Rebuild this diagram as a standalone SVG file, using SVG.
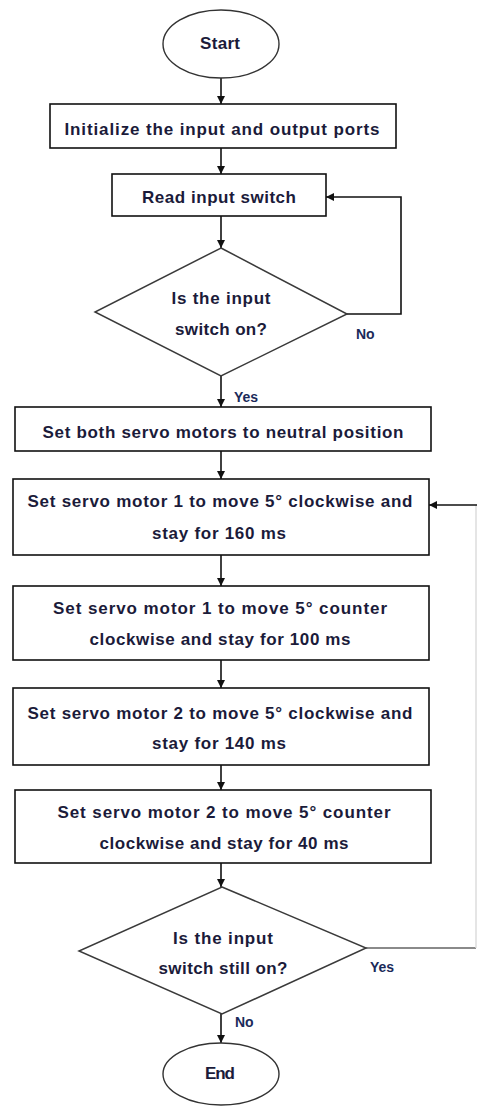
<svg xmlns="http://www.w3.org/2000/svg" width="477" height="1109" viewBox="0 0 477 1109">
<style>
.box{fill:#fff;stroke:#111;stroke-width:1.6}
.dia{fill:#fff;stroke:#3a3a3a;stroke-width:1.5}
.ell{fill:#fff;stroke:#333;stroke-width:1.4}
.t{font-family:"Liberation Sans",Arial,sans-serif;font-size:17px;font-weight:bold;fill:#1b1b3a;text-anchor:middle}
.lb{font-family:"Liberation Sans",Arial,sans-serif;font-size:14px;font-weight:bold;fill:#1b2a5a}
.c{fill:none;stroke:#111;stroke-width:1.6}
</style>
<defs>
<marker id="ah" viewBox="0 0 10 10" refX="10" refY="5" markerWidth="8" markerHeight="8" markerUnits="userSpaceOnUse" orient="auto">
<path d="M0,0 L10,5 L0,10 Z" fill="#111"/>
</marker>
</defs>
<rect width="477" height="1109" fill="#fff"/>
<g id="connectors">
<path class="c" d="M221,78 V104" marker-end="url(#ah)"/>
<path class="c" d="M221,148 V174" marker-end="url(#ah)"/>
<path class="c" d="M221,216 V248" marker-end="url(#ah)"/>
<path class="c" d="M347,314 H401 V197 H326" marker-end="url(#ah)"/>
<path class="c" d="M221,376 V407" marker-end="url(#ah)"/>
<path class="c" d="M221,451 V479" marker-end="url(#ah)"/>
<path class="c" d="M221,555 V586" marker-end="url(#ah)"/>
<path class="c" d="M221,660 V688" marker-end="url(#ah)"/>
<path class="c" d="M221,765 V790" marker-end="url(#ah)"/>
<path class="c" d="M221,863 V887" marker-end="url(#ah)"/>
<path fill="none" stroke="#8a8a8a" stroke-width="2" d="M366,948 H476"/>
<path fill="none" stroke="#dcdcdc" stroke-width="1.5" d="M476,948 V505"/>
<path class="c" d="M477,505 H429" marker-end="url(#ah)"/>
<path class="c" d="M221,1014 V1043" marker-end="url(#ah)"/>
<text class="lb" x="356" y="339">No</text>
<text class="lb" x="234" y="402">Yes</text>
<text class="lb" x="370" y="972">Yes</text>
<text class="lb" x="235" y="1027">No</text>
</g>
<g id="start">
<ellipse class="ell" cx="221" cy="44" rx="58" ry="34"/>
<text class="t" x="220" y="49" textLength="40">Start</text>
</g>
<g id="init">
<rect class="box" x="50" y="104" width="346" height="44"/>
<text class="t" x="222" y="135" textLength="315">Initialize the input and output ports</text>
</g>
<g id="read">
<rect class="box" x="112" y="174" width="214" height="42"/>
<text class="t" x="219" y="203" textLength="154">Read input switch</text>
</g>
<g id="decision1">
<polygon class="dia" points="221,248 347,314 221,376 95,312"/>
<text class="t" x="221" y="304" textLength="99">Is the input</text>
<text class="t" x="221" y="335" textLength="92">switch on?</text>
</g>
<g id="neutral">
<rect class="box" x="15" y="407" width="416" height="44"/>
<text class="t" x="223" y="438" textLength="361">Set both servo motors to neutral position</text>
</g>
<g id="m1cw">
<rect class="box" x="13" y="479" width="416" height="76"/>
<text class="t" x="220" y="507" textLength="385">Set servo motor 1 to move 5° clockwise and</text>
<text class="t" x="219" y="539" textLength="134">stay for 160 ms</text>
</g>
<g id="m1ccw">
<rect class="box" x="13" y="586" width="416" height="74"/>
<text class="t" x="220" y="614" textLength="334">Set servo motor 1 to move 5° counter</text>
<text class="t" x="220" y="645" textLength="261">clockwise and stay for 100 ms</text>
</g>
<g id="m2cw">
<rect class="box" x="13" y="688" width="416" height="77"/>
<text class="t" x="220" y="719" textLength="385">Set servo motor 2 to move 5° clockwise and</text>
<text class="t" x="219" y="749" textLength="134">stay for 140 ms</text>
</g>
<g id="m2ccw">
<rect class="box" x="15" y="790" width="416" height="73"/>
<text class="t" x="224" y="818" textLength="333">Set servo motor 2 to move 5° counter</text>
<text class="t" x="224" y="849" textLength="249">clockwise and stay for 40 ms</text>
</g>
<g id="decision2">
<polygon class="dia" points="222,887 366,948 222,1014 79,951"/>
<text class="t" x="223" y="944" textLength="100">Is the input</text>
<text class="t" x="223" y="974" textLength="129">switch still on?</text>
</g>
<g id="end">
<ellipse class="ell" cx="221" cy="1074" rx="58" ry="31"/>
<text class="t" x="220" y="1079" textLength="30">End</text>
</g>
</svg>
